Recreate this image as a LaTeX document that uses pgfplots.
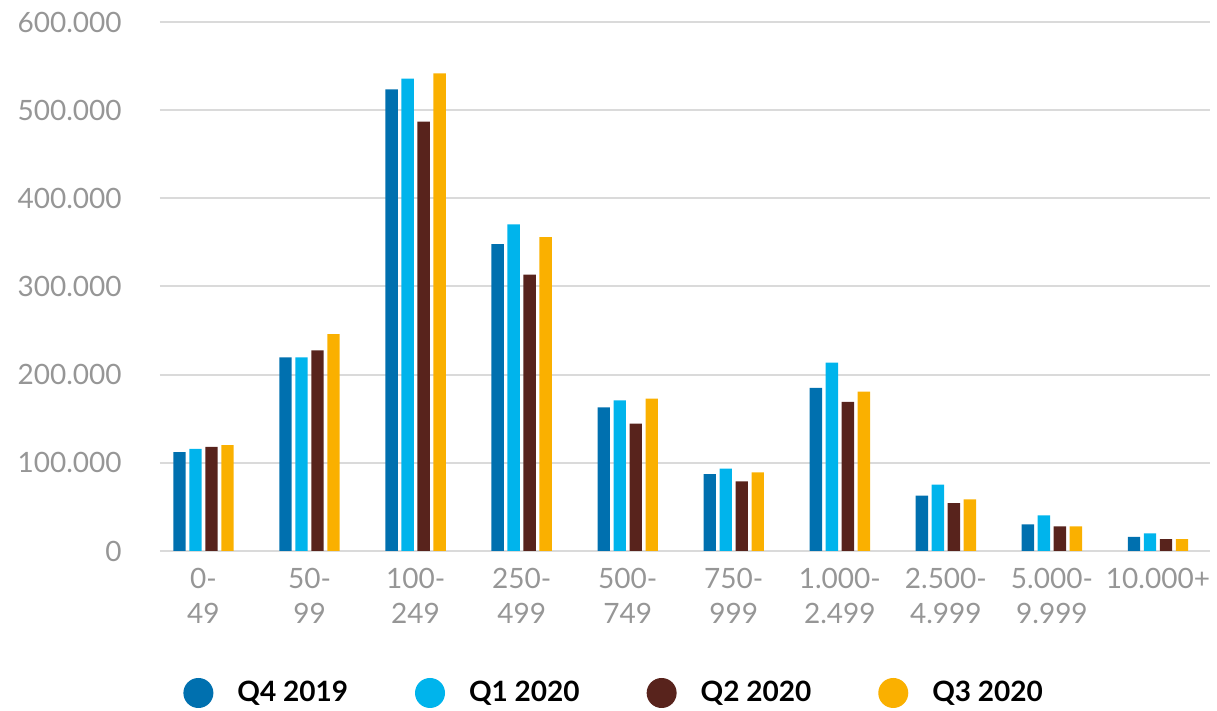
\documentclass[border=0pt]{standalone}
\usepackage{pgfplots}
\pgfplotsset{compat=1.18}
\usepackage{fontspec}
\setmainfont{Lato}
\definecolor{cQfour}{RGB}{0,112,175}
\definecolor{cQone}{RGB}{0,180,236}
\definecolor{cQtwo}{RGB}{88,35,28}
\definecolor{cQthree}{RGB}{250,176,0}
\definecolor{tickgray}{RGB}{150,150,150}
\definecolor{gridgray}{RGB}{218,218,218}
\begin{document}
\begin{tikzpicture}
\begin{axis}[
    name=ax,
    scale only axis,
    width=525pt, height=264.5pt,
    ybar, bar width=6.2pt,
    xmin=-0.41, xmax=9.49,
    ymin=0, ymax=600000,
    scaled y ticks=false,
    xtick={0,...,9},
    xticklabels={{0-\\49},{50-\\99},{100-\\249},{250-\\499},{500-\\749},{750-\\999},{1.000-\\2.499},{2.500-\\4.999},{5.000-\\9.999},{10.000+}},
    ytick={0,100000,200000,300000,400000,500000,600000},
    yticklabels={0,100.000,200.000,300.000,400.000,500.000,600.000},
    major tick length=0pt,
    axis line style={draw=none},
    ymajorgrids,
    grid style={gridgray, line width=1pt},
    xticklabel style={font=\fontsize{14}{17.5}\selectfont, text=tickgray, align=center, anchor=north, inner sep=0pt, yshift=-8.5pt},
    yticklabel style={font=\fontsize{14}{17}\selectfont, text=tickgray, anchor=east, inner sep=0pt, xshift=-19pt},
    legend columns=4,
    legend image code/.code={\fill[#1] (7.5pt,0pt) circle (7.5pt); \path (0pt,0pt) (25pt,0pt);},
    legend style={at={(0,0)}, anchor=west, xshift=11.5pt, yshift=-71pt, draw=none, inner sep=0pt,
        font=\fontsize{14}{17}\selectfont\bfseries, /tikz/every even column/.append style={column sep=31.5pt}},
]
\addplot[draw=none, fill=cQfour, bar shift=-12pt] coordinates {
    (0,112000) (1,219700) (2,523600) (3,348000) (4,163000) (5,87300) (6,184900) (7,62700) (8,30300) (9,15900)};
\addplot[draw=none, fill=cQone, bar shift=-4pt] coordinates {
    (0,115700) (1,219700) (2,535700) (3,370500) (4,170900) (5,93300) (6,213600) (7,75200) (8,40500) (9,20000)};
\addplot[draw=none, fill=cQtwo, bar shift=4pt] coordinates {
    (0,118000) (1,227600) (2,486900) (3,313400) (4,144400) (5,79000) (6,169000) (7,54400) (8,28000) (9,13600)};
\addplot[draw=none, fill=cQthree, bar shift=12pt] coordinates {
    (0,120000) (1,246000) (2,541800) (3,356000) (4,172700) (5,89200) (6,180700) (7,58600) (8,28000) (9,13600)};
\legend{Q4 2019, Q1 2020, Q2 2020, Q3 2020}
\end{axis}
\pgfresetboundingbox
\path[use as bounding box] ([shift={(-80pt,-80pt)}]ax.south west) rectangle ([shift={(528.5pt,275.5pt)}]ax.south west);
\end{tikzpicture}
\end{document}
